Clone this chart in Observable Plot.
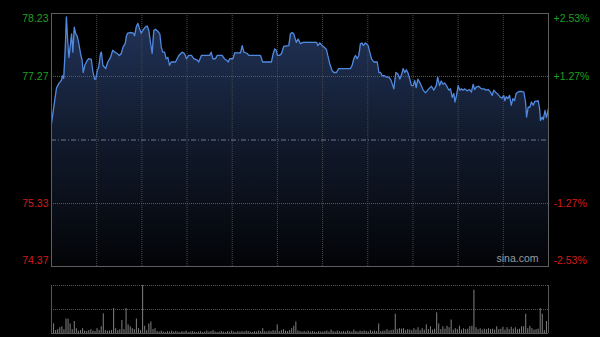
<!DOCTYPE html>
<html><head><meta charset="utf-8">
<script src="https://cdn.jsdelivr.net/npm/d3@7"></script>
<script src="https://cdn.jsdelivr.net/npm/@observablehq/plot@0.6"></script>
<style>
html,body{margin:0;padding:0;background:#000;}
#chart{width:600px;height:337px;position:relative;overflow:hidden;background:#000;}
#chart svg{display:block;}
</style></head><body><div id="chart"></div>
<script>
// ---- data ----
const minutes = [0,1.1,2.4,3.5,4.8,5.3,5.9,6.6,7.2,7.9,8.4,9.2,9.7,10.3,11.0,11.7,12.4,13.2,14.0,14.8,15.3,16.1,17.2,18.0,19.2,19.9,20.8,21.4,22.1,22.8,23.7,24.1,24.8,25.6,26.2,27.2,28.5,29.6,30.6,31.7,32.8,33.7,34.6,35.6,36.2,36.8,38.1,39.5,40.1,40.9,41.7,42.5,43.3,44.3,45.2,46.2,47.0,47.8,48.6,49.4,50.2,51.3,52.3,53.0,53.7,54.6,55.4,56.2,57.0,57.8,59.9,
61.5,63.1,64.2,65.2,66.3,67.6,68.7,70.4,71.1,72.4,76.4,77.1,77.9,79.2,80.0,82.4,83.5,84.8,85.3,86.1,87.6,88.5,91.3,92.1,92.9,94.5,95.3,100.9,102.0,106.2,107.1,107.8,108.5,109.1,110.1,111.1,112.2,114.6,115.4,116.2,117.0,118.2,119.1,120.2,
121.5,128.0,128.6,129.6,130.7,131.8,132.8,133.4,134.4,135.5,136.3,137.6,138.7,144.4,145.2,146.0,146.8,147.6,148.4,149.2,150.0,150.5,151.6,152.9,153.7,154.5,155.6,157.3,158.1,158.9,159.7,160.8,161.8,162.9,164.0,165.3,166.3,167.2,168.2,169.2,169.8,170.6,171.4,172.3,173.0,173.8,174.7,175.4,176.1,176.9,177.8,178.7,179.5,180.6,
182.2,183.5,184.6,185.8,186.5,187.4,188.2,189.0,189.9,190.7,191.9,192.7,193.5,194.3,194.8,195.6,196.4,197.2,198.0,198.8,199.6,200.7,201.9,202.8,203.6,204.3,205.2,206.3,207.6,208.8,209.9,210.9,212.0,212.8,213.6,214.4,215.2,216.0,216.8,217.6,218.4,218.9,219.6,220.3,221.2,222.0,222.8,223.6,224.4,225.7,227.3,228.1,228.9,229.4,230.2,231.0,231.8,232.6,233.4,234.5,235.0,235.7,236.1,237.0,237.5,238.3,239.0,240];
const prices = [76.55,76.80,77.09,77.16,77.21,77.28,77.24,77.67,78.18,77.77,77.56,77.77,77.92,77.64,78.02,77.92,77.89,77.77,77.62,77.51,77.33,77.44,77.51,77.54,77.53,77.36,77.23,77.23,77.36,77.41,77.62,77.64,77.44,77.41,77.39,77.49,77.56,77.67,77.64,77.62,77.59,77.62,77.72,77.77,77.89,77.93,77.94,77.93,77.89,78.02,78.08,78.00,77.93,77.98,78.02,78.04,77.97,77.79,77.62,77.97,77.99,77.96,77.92,77.72,77.64,77.64,77.54,77.56,77.44,77.49,77.49,
77.59,77.64,77.62,77.54,77.59,77.59,77.54,77.52,77.49,77.59,77.59,77.64,77.54,77.54,77.59,77.59,77.54,77.51,77.49,77.54,77.54,77.63,77.63,77.74,77.64,77.62,77.59,77.59,77.49,77.49,77.62,77.69,77.67,77.59,77.59,77.62,77.73,77.74,77.92,77.94,77.92,77.79,77.84,77.77,
77.79,77.79,77.74,77.78,77.74,77.71,77.68,77.59,77.46,77.36,77.33,77.33,77.39,77.39,77.44,77.54,77.59,77.54,77.59,77.77,77.78,77.74,77.78,77.74,77.64,77.54,77.49,77.49,77.33,77.33,77.28,77.28,77.26,77.26,77.21,77.08,77.33,77.31,77.23,77.31,77.39,77.33,77.37,77.31,77.23,77.13,77.13,77.21,77.10,77.23,77.18,77.12,77.06,77.02,
77.08,77.12,77.06,77.13,77.26,77.13,77.20,77.15,77.17,77.13,77.06,77.08,76.95,77.01,76.88,76.98,77.13,77.06,77.08,77.06,77.08,77.05,77.07,77.03,77.15,77.07,77.11,77.12,77.08,77.08,77.06,77.07,77.03,76.98,77.06,77.03,77.01,76.98,76.95,76.94,76.98,76.90,76.96,76.93,76.98,76.83,76.93,76.90,77.01,77.04,77.04,77.03,76.88,76.65,76.80,76.80,76.88,76.83,76.89,76.89,76.90,76.78,76.60,76.65,76.61,76.75,76.64,76.78];
// volume per minute (relative units, index = minute 0..240)
const volumes = [33,20,6,8,12,14,8,30,30,20,8,
25,10,5,6,10,5,4,6,8,5,
4,10,6,14,41,6,5,5,6,52,
10,6,8,27,8,52,18,14,10,8,
30,10,6,100,15,6,20,24,8,10,
4,3,5,3,2,4,3,5,3,4,
3,2,4,3,5,2,3,4,3,2,
3,4,2,3,5,3,4,6,3,2,
3,4,3,2,4,3,5,3,2,4,
3,4,3,5,4,3,2,4,3,5,
4,10,4,3,5,4,6,5,18,4,
6,8,5,4,6,10,15,24,5,4,
3,4,3,5,3,4,3,2,4,3,
3,4,5,3,7,4,3,5,4,3,
4,3,5,4,3,7,4,3,5,4,
5,4,3,6,4,5,4,20,4,5,
5,8,5,6,7,40,8,10,9,10,
6,8,7,6,10,7,12,6,10,7,
18,8,14,7,9,43,20,8,14,9,
15,12,28,7,10,8,15,7,10,8,
9,14,15,90,12,8,10,7,9,8,
10,8,9,7,14,8,9,13,7,12,
8,13,9,12,8,9,14,14,40,10,
15,10,7,8,9,52,40,6,25,45];
const prevClose = 76.30;
const priceTicks = [78.23, 77.27, 75.33, 74.37];
const pctLabels = ["+2.53%", "+1.27%", "-1.27%", "-2.53%"];
const watermark = "sina.com";
const volMax = 100;

// ---- build ----
const yMin = d3.min(priceTicks), yMax = d3.max(priceTicks);
const series = minutes.map((m, i) => ({m, p: prices[i]}));
const vols = volumes.map((v, i) => ({m: i, v}));
const ticks = priceTicks.map((v, i) => ({v, pct: pctLabels[i], pos: i === 0 ? "top" : i === priceTicks.length - 1 ? "bottom" : "mid"}));
const gridX = d3.range(1, 11).map(k => k * 240 / 11);
const font = "'Liberation Sans', Arial, sans-serif";
const green = "#1f9e1f", red = "#d21b1b";
const tickColor = d => d.v > prevClose ? green : red;

const labelMarks = [];
for (const [pos, dy] of [["top", 5], ["mid", 0], ["bottom", -6]]) {
  const sub = ticks.filter(d => d.pos === pos);
  labelMarks.push(Plot.text(sub, {y: "v", text: d => d.v.toFixed(2), frameAnchor: "left", textAnchor: "end", dx: -3, dy, fill: tickColor, fontSize: 10.5}));
  labelMarks.push(Plot.text(sub, {y: "v", text: "pct", frameAnchor: "right", textAnchor: "start", dx: 5, dy, fill: tickColor, fontSize: 10.5}));
}

const main = Plot.plot({
  width: 600, height: 270,
  marginTop: 13, marginBottom: 4, marginLeft: 51, marginRight: 52,
  style: {background: "transparent", fontFamily: font, overflow: "visible"},
  x: {domain: [0, 240], axis: null},
  y: {domain: [yMin, yMax], axis: null},
  marks: [
    Plot.areaY(series, {x: "m", y1: yMin, y2: "p", fill: "url(#areaGrad)"}),
    Plot.ruleX(gridX, {stroke: "#484848", strokeDasharray: "1,1"}),
    Plot.ruleY([priceTicks[1], priceTicks[2]], {stroke: "#5c5c5c", strokeDasharray: "1,1"}),
    Plot.ruleY([prevClose], {stroke: "#6f7886", strokeDasharray: "5,2,1,2"}),
    Plot.lineY(series, {x: "m", y: "p", stroke: "#5089dd", strokeWidth: 1.3}),
    Plot.frame({stroke: "#5e5e5e"}),
    Plot.text([watermark], {text: d => d, frameAnchor: "bottom-right", textAnchor: "end", dx: -10, dy: -5, fill: "#9c9c9c", fontSize: 10.5}),
    ...labelMarks
  ]
});
const ns = "http://www.w3.org/2000/svg";
const defs = document.createElementNS(ns, "defs");
defs.innerHTML = `<linearGradient id="areaGrad" gradientUnits="userSpaceOnUse" x1="0" y1="13" x2="0" y2="266">
<stop offset="0" stop-color="#22345a"/>
<stop offset="0.5" stop-color="#111a2c"/>
<stop offset="1" stop-color="#030407"/>
</linearGradient>`;
main.insertBefore(defs, main.firstChild);

const vol = Plot.plot({
  width: 600, height: 67,
  marginTop: 15, marginBottom: 4, marginLeft: 51, marginRight: 52,
  style: {background: "transparent", fontFamily: font},
  x: {domain: [0, 240], axis: null},
  y: {domain: [0, volMax], axis: null},
  marks: [
    Plot.ruleY([volMax, volMax / 2], {stroke: "#555", strokeDasharray: "1,1"}),
    Plot.ruleX(vols, {x: "m", y1: 0, y2: "v", stroke: "#808080", strokeWidth: 1}),
    Plot.ruleX([0, 240], {stroke: "#555"}),
    Plot.ruleY([0], {stroke: "#555"})
  ]
});
const root = document.getElementById("chart");
root.appendChild(main);
root.appendChild(vol);
</script></body></html>
